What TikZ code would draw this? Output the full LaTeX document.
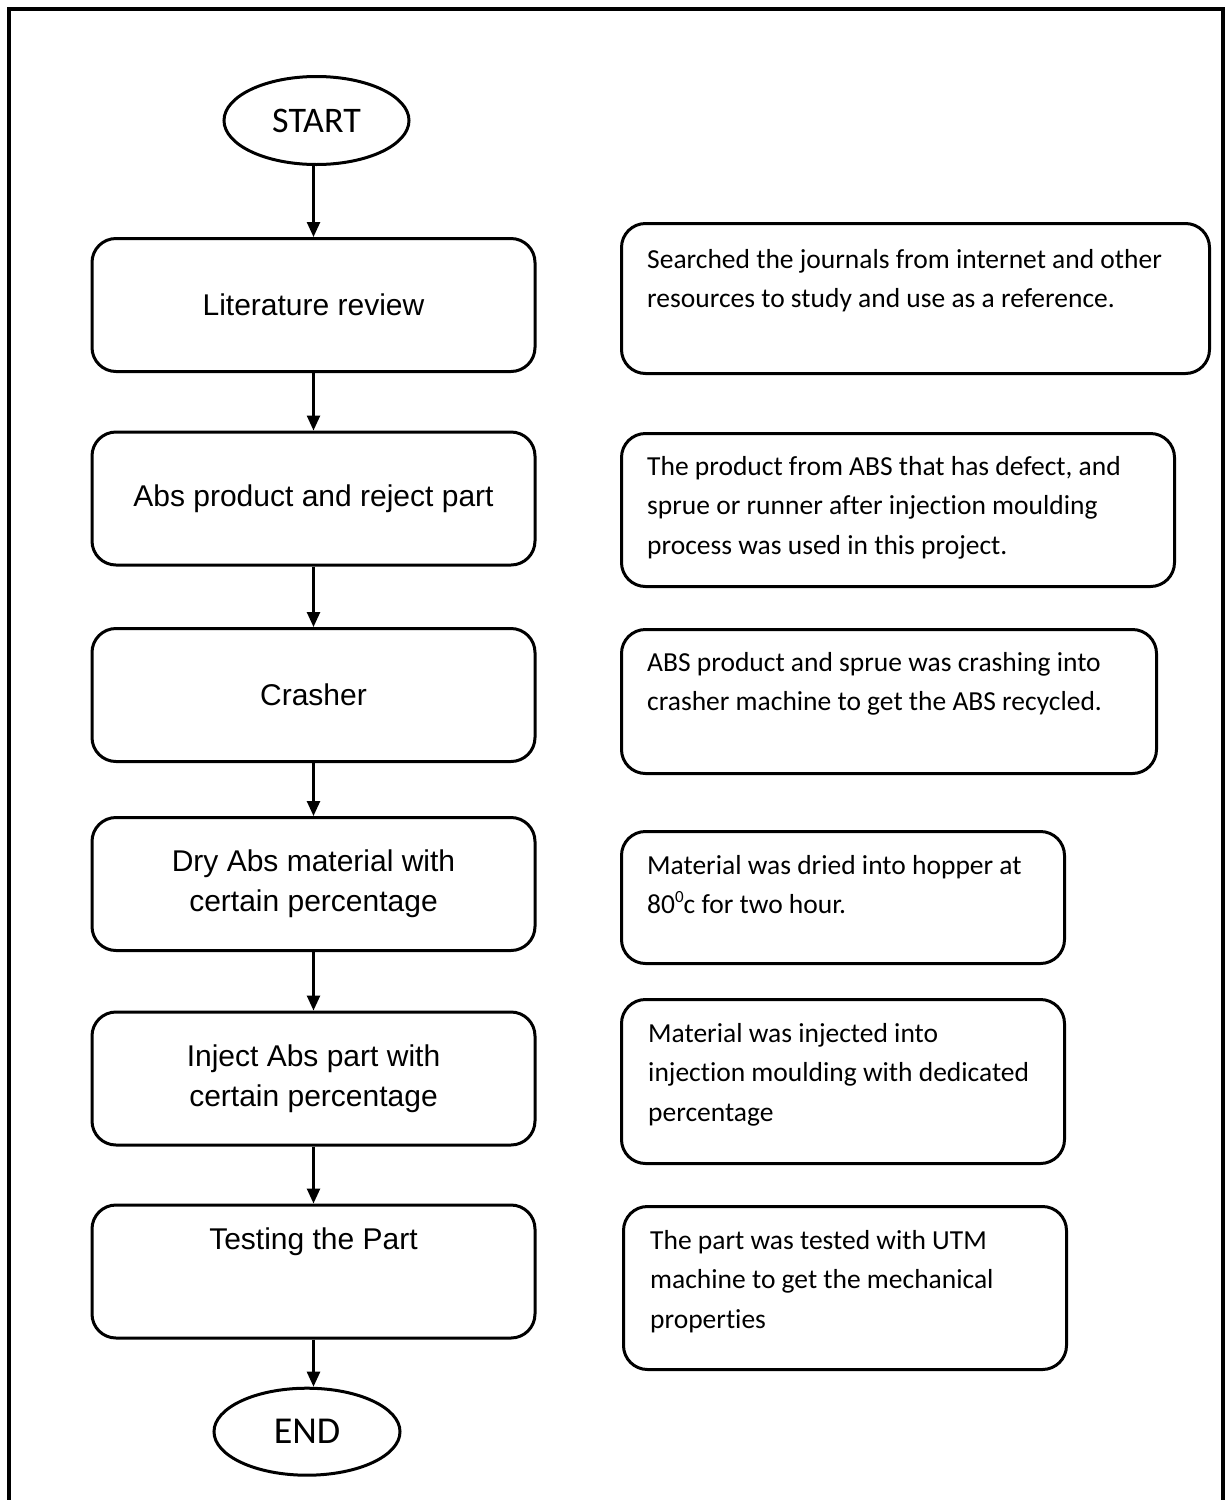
\documentclass[tikz,border=0pt]{standalone}
\usepackage{fontspec}
\newfontfamily\arialfont{Liberation Sans}
\newfontfamily\calfont[Ligatures=NoCommon]{Carlito}
\usetikzlibrary{positioning,shapes.geometric,arrows.meta}

\tikzset{
  lbox/.style={draw, line width=3pt, rounded corners=24pt, minimum width=443pt,
    minimum height=133pt, align=center, font=\arialfont\fontsize{30}{40}\selectfont},
  rbox/.style={draw, line width=3pt, rounded corners=24pt, anchor=north west, inner sep=0pt},
  rtext/.style={align=left, inner sep=0pt, font=\calfont\fontsize{27.5}{39.5}\selectfont},
  term/.style={ellipse, draw, line width=3pt, inner sep=0pt},
  flow/.style={-{Triangle[length=15pt,width=13pt]}, line width=2.5pt}
}

\begin{document}
\begin{tikzpicture}[x=1pt, y=-1pt]
  \useasboundingbox (0,0) rectangle (1225,1500);
  % outer frame, open at the bottom
  \draw[line width=4pt] (8.7,1520) -- (8.7,8.7) -- (1222.5,8.7) -- (1222.5,1520);

  % left column
  \node[term, minimum width=185pt, minimum height=88pt, font=\calfont\fontsize{36}{40}\selectfont]
    (start) at (316.5,120.5) {START};
  \node[lbox] (l1) at (313.5,305) {Literature review};
  \node[lbox] (l2) at (313.5,498.5) {Abs product and reject part};
  \node[lbox] (l3) at (313.5,695) {Crasher};
  \node[lbox] (l4) at (313.5,884) {Dry Abs material with\\certain percentage};
  \node[lbox] (l5) at (313.5,1078.5) {Inject Abs part with\\certain percentage};
  \node[lbox] (l6) at (313.5,1271.5) {};
  \node[below=24pt of l6.north, inner sep=0pt, font=\arialfont\fontsize{30}{40}\selectfont]
    (l6t) {Testing the Part};
  \node[term, minimum width=186pt, minimum height=87pt, font=\calfont\fontsize{38}{44}\selectfont]
    (endn) at (307,1431.7) {END};

  % arrows
  \draw[flow] (start.south -| l1.north) -- (l1.north);
  \draw[flow] (l1.south) -- (l2.north);
  \draw[flow] (l2.south) -- (l3.north);
  \draw[flow] (l3.south) -- (l4.north);
  \draw[flow] (l4.south) -- (l5.north);
  \draw[flow] (l5.south) -- (l6.north);
  \draw[flow] (l6.south) -- (l6.south |- endn.north);

  % right column
  \node[rbox, minimum width=588pt, minimum height=150pt] (r1) at (620,222) {};
  \node[rtext, below right=27pt and 27pt of r1.north west] (r1t)
    {Searched the journals from internet and other\\resources to study and use as a reference.};

  \node[rbox, minimum width=553pt, minimum height=153pt] (r2) at (620,432) {};
  \node[rtext, below right=24pt and 27pt of r2.north west] (r2t)
    {The product from ABS that has defect, and\\sprue or runner after injection moulding\\process was used in this project.};

  \node[rbox, minimum width=535pt, minimum height=144pt] (r3) at (620,628) {};
  \node[rtext, below right=24pt and 27pt of r3.north west] (r3t)
    {ABS product and sprue was crashing into\\crasher machine to get the ABS recycled.};

  \node[rbox, minimum width=443pt, minimum height=132pt] (r4) at (620,830) {};
  \node[rtext, below right=25pt and 27pt of r4.north west] (r4t)
    {Material was dried into hopper at\\80\raisebox{0.42em}{\fontsize{17}{17}\selectfont 0}c for two hour.};

  \node[rbox, minimum width=443pt, minimum height=164pt] (r5) at (620,998) {};
  \node[rtext, below right=25pt and 28pt of r5.north west] (r5t)
    {Material was injected into\\injection moulding with dedicated\\percentage};

  \node[rbox, minimum width=443pt, minimum height=163pt] (r6) at (622,1205) {};
  \node[rtext, below right=25pt and 28pt of r6.north west] (r6t)
    {The part was tested with UTM\\machine to get the mechanical\\properties};
\end{tikzpicture}
\end{document}
